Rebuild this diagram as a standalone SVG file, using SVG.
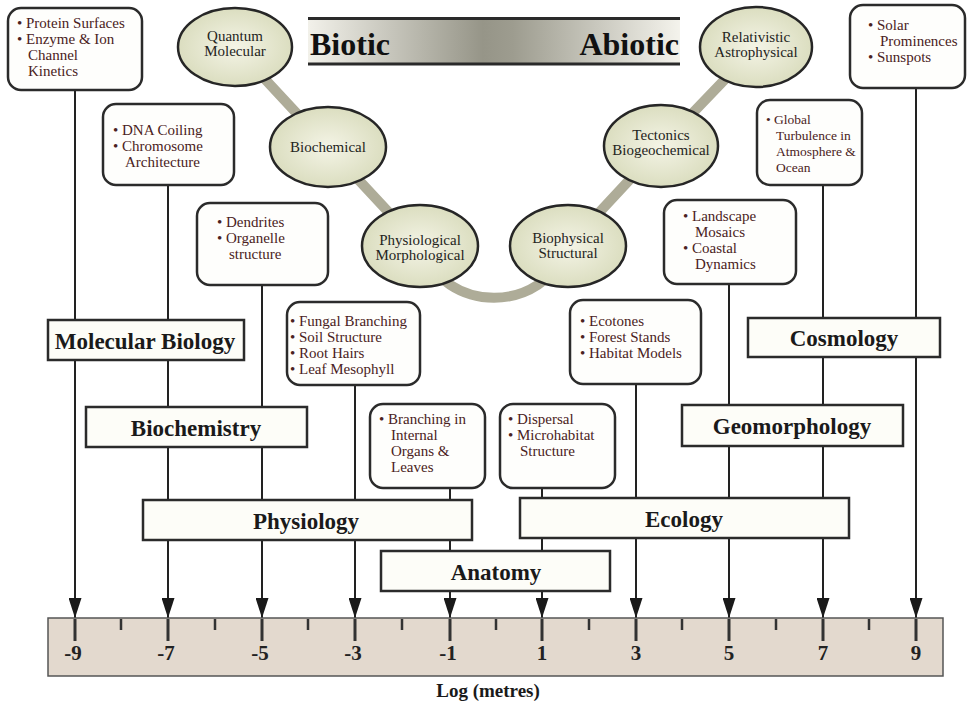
<svg xmlns="http://www.w3.org/2000/svg" width="974" height="709" viewBox="0 0 974 709">
<defs>
<style>
.item{fill:#fefefc;stroke:#2b2b2b;stroke-width:2.5}
.disc{fill:#fdfdf8;stroke:#2b2b2b;stroke-width:2.5}
.oval{fill:url(#ovalFill);stroke:#262626;stroke-width:2.5}
.it{font-family:"Liberation Serif","Times New Roman",serif;font-size:15px;fill:#4a2222}
.its{font-size:13.5px}
.ot{font-family:"Liberation Serif","Times New Roman",serif;font-size:15px;fill:#24241c;text-anchor:middle}
.dt{font-family:"Liberation Serif","Times New Roman",serif;font-size:23px;font-weight:bold;fill:#1a1a1a;text-anchor:middle}
.rt{font-family:"Liberation Serif","Times New Roman",serif;font-size:21px;font-weight:bold;fill:#222;text-anchor:middle}
.conn{stroke:#222;stroke-width:2;fill:none}
.tick{stroke:#333;stroke-width:3}
.mtick{stroke:#333;stroke-width:2.5}
</style>
<radialGradient id="ovalFill" cx="50%" cy="50%" r="60%">
<stop offset="0" stop-color="#f4f4e6"/>
<stop offset="1" stop-color="#d6d9b8"/>
</radialGradient>
<linearGradient id="barFill" x1="0" y1="0" x2="1" y2="0">
<stop offset="0" stop-color="#f2f1ea"/>
<stop offset="0.47" stop-color="#969588"/>
<stop offset="0.55" stop-color="#9d9c8f"/>
<stop offset="1" stop-color="#f4f3ec"/>
</linearGradient>
<marker id="arr" markerUnits="userSpaceOnUse" markerWidth="20" markerHeight="13" viewBox="0 0 20 13" refX="20" refY="6.5" orient="auto">
<path d="M0,0 L20,6.5 L0,13 z" fill="#1a1a1a"/>
</marker>
</defs>
<rect width="974" height="709" fill="#ffffff"/>

<!-- title bar -->
<g id="title">
<rect x="308" y="20" width="372" height="43" fill="url(#barFill)"/>
<line x1="308" y1="18.5" x2="680" y2="18.5" stroke="#2a2a2a" stroke-width="3"/>
<line x1="308" y1="64" x2="680" y2="64" stroke="#2a2a2a" stroke-width="3"/>
<text x="310" y="55" font-family="'Liberation Serif','Times New Roman',serif" font-size="32" font-weight="bold" fill="#111">Biotic</text>
<text x="679" y="55" font-family="'Liberation Serif','Times New Roman',serif" font-size="32" font-weight="bold" fill="#111" text-anchor="end">Abiotic</text>
</g>

<!-- scale band connecting ovals -->
<g id="band">
<path d="M235,47 L328,147 L420,246 C445,315 543,315 568,246 L661,146 L756,47" fill="none" stroke="#aeac98" stroke-width="10" stroke-linejoin="round"/>
</g>

<!-- connectors -->
<g id="connectors">
<line class="conn" x1="75" y1="90" x2="75" y2="618" marker-end="url(#arr)"/>
<line class="conn" x1="168" y1="185" x2="168" y2="618" marker-end="url(#arr)"/>
<line class="conn" x1="262" y1="285" x2="262" y2="618" marker-end="url(#arr)"/>
<line class="conn" x1="355" y1="385" x2="355" y2="618" marker-end="url(#arr)"/>
<line class="conn" x1="450" y1="488" x2="450" y2="618" marker-end="url(#arr)"/>
<line class="conn" x1="542" y1="488" x2="542" y2="618" marker-end="url(#arr)"/>
<line class="conn" x1="636" y1="384" x2="636" y2="618" marker-end="url(#arr)"/>
<line class="conn" x1="729" y1="284" x2="729" y2="618" marker-end="url(#arr)"/>
<line class="conn" x1="823" y1="185" x2="823" y2="618" marker-end="url(#arr)"/>
<line class="conn" x1="916" y1="88" x2="916" y2="618" marker-end="url(#arr)"/>
</g>

<!-- ovals -->
<g id="oval-quantum">
<ellipse class="oval" cx="235" cy="47" rx="57" ry="39"/>
<text class="ot" x="235" y="41">Quantum</text>
<text class="ot" x="235" y="56">Molecular</text>
</g>
<g id="oval-biochemical">
<ellipse class="oval" cx="328" cy="147" rx="58" ry="40"/>
<text class="ot" x="328" y="152">Biochemical</text>
</g>
<g id="oval-physiological">
<ellipse class="oval" cx="420" cy="246" rx="58" ry="41"/>
<text class="ot" x="420" y="245">Physiological</text>
<text class="ot" x="420" y="260">Morphological</text>
</g>
<g id="oval-biophysical">
<ellipse class="oval" cx="568" cy="246" rx="58" ry="41"/>
<text class="ot" x="568" y="243">Biophysical</text>
<text class="ot" x="568" y="258">Structural</text>
</g>
<g id="oval-tectonics">
<ellipse class="oval" cx="661" cy="146" rx="57" ry="41"/>
<text class="ot" x="661" y="140">Tectonics</text>
<text class="ot" x="661" y="155">Biogeochemical</text>
</g>
<g id="oval-relativistic">
<ellipse class="oval" cx="756" cy="47" rx="56" ry="40"/>
<text class="ot" x="756" y="42">Relativistic</text>
<text class="ot" x="756" y="57">Astrophysical</text>
</g>

<!-- item boxes -->
<g id="box-protein">
<rect class="item" x="8" y="8" width="134" height="82" rx="13"/>
<text class="it"><tspan x="17" y="28">• Protein Surfaces</tspan><tspan x="17" y="44">• Enzyme &amp; Ion</tspan><tspan x="28" y="60">Channel</tspan><tspan x="28" y="76">Kinetics</tspan></text>
</g>
<g id="box-dna">
<rect class="item" x="103" y="104" width="131" height="81" rx="13"/>
<text class="it"><tspan x="113" y="135">• DNA Coiling</tspan><tspan x="113" y="151">• Chromosome</tspan><tspan x="125" y="167">Architecture</tspan></text>
</g>
<g id="box-dendrites">
<rect class="item" x="197" y="203" width="131" height="82" rx="13"/>
<text class="it"><tspan x="217" y="227">• Dendrites</tspan><tspan x="217" y="243">• Organelle</tspan><tspan x="229" y="259">structure</tspan></text>
</g>
<g id="box-fungal">
<rect class="item" x="287" y="302" width="133" height="83" rx="13"/>
<text class="it"><tspan x="290" y="326">• Fungal Branching</tspan><tspan x="290" y="342">• Soil Structure</tspan><tspan x="290" y="358">• Root Hairs</tspan><tspan x="290" y="374">• Leaf Mesophyll</tspan></text>
</g>
<g id="box-branching">
<rect class="item" x="370" y="404" width="115" height="84" rx="13"/>
<text class="it"><tspan x="379" y="424">• Branching in</tspan><tspan x="391" y="440">Internal</tspan><tspan x="391" y="456">Organs &amp;</tspan><tspan x="391" y="472">Leaves</tspan></text>
</g>
<g id="box-dispersal">
<rect class="item" x="500" y="404" width="115" height="84" rx="13"/>
<text class="it"><tspan x="508" y="424">• Dispersal</tspan><tspan x="508" y="440">• Microhabitat</tspan><tspan x="520" y="456">Structure</tspan></text>
</g>
<g id="box-ecotones">
<rect class="item" x="570" y="300" width="131" height="84" rx="13"/>
<text class="it"><tspan x="580" y="326">• Ecotones</tspan><tspan x="580" y="342">• Forest Stands</tspan><tspan x="580" y="358">• Habitat Models</tspan></text>
</g>
<g id="box-landscape">
<rect class="item" x="664" y="200" width="132" height="84" rx="13"/>
<text class="it"><tspan x="683" y="221">• Landscape</tspan><tspan x="695" y="237">Mosaics</tspan><tspan x="683" y="253">• Coastal</tspan><tspan x="695" y="269">Dynamics</tspan></text>
</g>
<g id="box-global">
<rect class="item" x="757" y="100" width="105" height="85" rx="13"/>
<text class="it its"><tspan x="766" y="124">• Global</tspan><tspan x="776" y="140">Turbulence in</tspan><tspan x="776" y="156">Atmosphere &amp;</tspan><tspan x="776" y="172">Ocean</tspan></text>
</g>
<g id="box-solar">
<rect class="item" x="850" y="5" width="115" height="83" rx="13"/>
<text class="it"><tspan x="868" y="30">• Solar</tspan><tspan x="880" y="46">Prominences</tspan><tspan x="868" y="62">• Sunspots</tspan></text>
</g>

<!-- discipline boxes -->
<g id="disc-molecular">
<rect class="disc" x="48" y="320" width="196" height="40"/>
<text class="dt" x="145" y="349">Molecular Biology</text>
</g>
<g id="disc-biochemistry">
<rect class="disc" x="86" y="407" width="221" height="40"/>
<text class="dt" x="196" y="436">Biochemistry</text>
</g>
<g id="disc-physiology">
<rect class="disc" x="143" y="500" width="329" height="40"/>
<text class="dt" x="306" y="529">Physiology</text>
</g>
<g id="disc-ecology">
<rect class="disc" x="520" y="498" width="329" height="40"/>
<text class="dt" x="684" y="527">Ecology</text>
</g>
<g id="disc-anatomy">
<rect class="disc" x="381" y="551" width="229" height="40"/>
<text class="dt" x="496" y="580">Anatomy</text>
</g>
<g id="disc-geomorphology">
<rect class="disc" x="682" y="405" width="221" height="41"/>
<text class="dt" x="792" y="434">Geomorphology</text>
</g>
<g id="disc-cosmology">
<rect class="disc" x="748" y="318" width="192" height="39"/>
<text class="dt" x="844" y="346">Cosmology</text>
</g>

<!-- ruler -->
<g id="ruler">
<rect x="48" y="618" width="895" height="58" fill="#e3d9ce" stroke="#555" stroke-width="1.5"/>
<g class="tick-major">
<line class="tick" x1="75" y1="619" x2="75" y2="641"/>
<line class="tick" x1="168" y1="619" x2="168" y2="641"/>
<line class="tick" x1="262" y1="619" x2="262" y2="641"/>
<line class="tick" x1="355" y1="619" x2="355" y2="641"/>
<line class="tick" x1="450" y1="619" x2="450" y2="641"/>
<line class="tick" x1="542" y1="619" x2="542" y2="641"/>
<line class="tick" x1="636" y1="619" x2="636" y2="641"/>
<line class="tick" x1="729" y1="619" x2="729" y2="641"/>
<line class="tick" x1="823" y1="619" x2="823" y2="641"/>
<line class="tick" x1="916" y1="619" x2="916" y2="641"/>
</g>
<g class="tick-minor">
<line class="mtick" x1="121" y1="619" x2="121" y2="630"/>
<line class="mtick" x1="215" y1="619" x2="215" y2="630"/>
<line class="mtick" x1="308" y1="619" x2="308" y2="630"/>
<line class="mtick" x1="402" y1="619" x2="402" y2="630"/>
<line class="mtick" x1="496" y1="619" x2="496" y2="630"/>
<line class="mtick" x1="589" y1="619" x2="589" y2="630"/>
<line class="mtick" x1="682" y1="619" x2="682" y2="630"/>
<line class="mtick" x1="776" y1="619" x2="776" y2="630"/>
<line class="mtick" x1="869" y1="619" x2="869" y2="630"/>
</g>
<text class="rt" x="73" y="660">-9</text>
<text class="rt" x="166" y="660">-7</text>
<text class="rt" x="260" y="660">-5</text>
<text class="rt" x="353" y="660">-3</text>
<text class="rt" x="448" y="660">-1</text>
<text class="rt" x="542" y="660">1</text>
<text class="rt" x="636" y="660">3</text>
<text class="rt" x="729" y="660">5</text>
<text class="rt" x="823" y="660">7</text>
<text class="rt" x="916" y="660">9</text>
<text x="488" y="697" font-family="'Liberation Serif','Times New Roman',serif" font-size="19" font-weight="bold" fill="#1a1a1a" text-anchor="middle">Log (metres)</text>
</g>
</svg>
